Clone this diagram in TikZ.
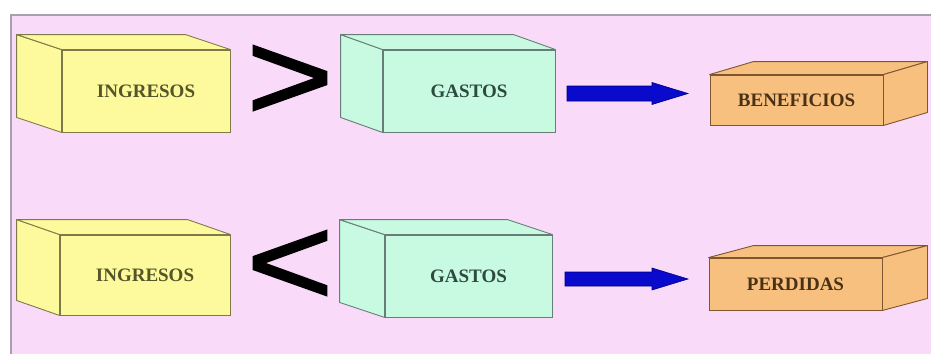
\documentclass[tikz,border=0pt]{standalone}
\usepackage{fontspec}
\usetikzlibrary{calc}
\setmainfont{Liberation Serif}
\newfontfamily\symfont[FakeBold=1.3]{Liberation Sans}
\definecolor{bgpink}{HTML}{F9DAF9}
\definecolor{framegray}{HTML}{A8A0B0}
\definecolor{boxyellow}{HTML}{FCFA9C}
\definecolor{edgeyellow}{HTML}{7E7A48}
\definecolor{boxgreen}{HTML}{C8FAE2}
\definecolor{edgegreen}{HTML}{667E76}
\definecolor{boxorange}{HTML}{F8C07E}
\definecolor{edgeorange}{HTML}{7E5630}
\definecolor{arrowblue}{HTML}{0A0ACC}
\definecolor{arrowedge}{HTML}{000080}
\definecolor{txtyellow}{HTML}{55552A}
\definecolor{txtgreen}{HTML}{2E4A40}
\definecolor{txtorange}{HTML}{4A3015}
\tikzset{
  front/.style={rectangle, inner sep=0pt, line width=0.9pt, font=\fontsize{19}{19}\selectfont\bfseries},
  yellowbox/.style={front, fill=boxyellow, draw=edgeyellow, text=txtyellow},
  greenbox/.style={front, fill=boxgreen, draw=edgegreen, text=txtgreen},
  orangebox/.style={front, fill=boxorange, draw=edgeorange, text=txtorange},
  relsym/.style={inner sep=0pt, anchor=base, font=\symfont\fontsize{150}{150}\selectfont},
  bigarrow/.style={fill=arrowblue, draw=arrowedge, line width=0.6pt, line join=miter}
}
\begin{document}
\begin{tikzpicture}[x=1pt,y=-1pt]
\useasboundingbox (0,0) rectangle (931,354);
\fill[white] (0,0) rectangle (931,354);
\fill[bgpink] (11,15) rectangle (931,354);
\draw[framegray, line width=1.2pt] (11,354) -- (11,15) -- (931,15);

% ---------- top row ----------
\node[yellowbox, minimum width=168pt, minimum height=82pt] (ing1) at (146,91) {INGRESOS};
\path[fill=boxyellow, draw=edgeyellow, line width=0.9pt, line join=round]
  (ing1.north west) -- ++(-45,-15) -- ($(ing1.south west)+(-45,-15)$) -- (ing1.south west) -- cycle;
\path[fill=boxyellow, draw=edgeyellow, line width=0.9pt, line join=round]
  (ing1.north west) -- ++(-45,-15) -- ($(ing1.north east)+(-45,-15)$) -- (ing1.north east) -- cycle;

\node[greenbox, minimum width=172pt, minimum height=82pt] (gas1) at (469,91) {GASTOS};
\path[fill=boxgreen, draw=edgegreen, line width=0.9pt, line join=round]
  (gas1.north west) -- ++(-42,-15) -- ($(gas1.south west)+(-42,-15)$) -- (gas1.south west) -- cycle;
\path[fill=boxgreen, draw=edgegreen, line width=0.9pt, line join=round]
  (gas1.north west) -- ++(-42,-15) -- ($(gas1.north east)+(-42,-15)$) -- (gas1.north east) -- cycle;

\node[orangebox, minimum width=173pt, minimum height=50pt] (ben) at (796.5,100) {BENEFICIOS};
\path[fill=boxorange, draw=edgeorange, line width=0.9pt, line join=round]
  (ben.north west) -- ++(44,-13) -- ($(ben.north east)+(44,-13)$) -- (ben.north east) -- cycle;
\path[fill=boxorange, draw=edgeorange, line width=0.9pt, line join=round]
  (ben.north east) -- ++(44,-13) -- ($(ben.south east)+(44,-13)$) -- (ben.south east) -- cycle;

\node[relsym] (gt) at (290,120) {\scalebox{1}[0.85]{>}};

\coordinate (a1s) at (567,93.5);
\coordinate (a1t) at (688,93.5);
\path[bigarrow] (a1s) ++(0,-7.5) -- ++(85,0) -- ++(0,-3.5) -- (a1t) -- ++(-36,11) -- ++(0,-3.5) -- ++(-85,0) -- cycle;

% ---------- bottom row ----------
\node[yellowbox, minimum width=170pt, minimum height=80pt] (ing2) at (145,275) {INGRESOS};
\path[fill=boxyellow, draw=edgeyellow, line width=0.9pt, line join=round]
  (ing2.north west) -- ++(-43,-15) -- ($(ing2.south west)+(-43,-15)$) -- (ing2.south west) -- cycle;
\path[fill=boxyellow, draw=edgeyellow, line width=0.9pt, line join=round]
  (ing2.north west) -- ++(-43,-15) -- ($(ing2.north east)+(-43,-15)$) -- (ing2.north east) -- cycle;

\node[greenbox, minimum width=167pt, minimum height=82pt] (gas2) at (468.5,276) {GASTOS};
\path[fill=boxgreen, draw=edgegreen, line width=0.9pt, line join=round]
  (gas2.north west) -- ++(-45,-15) -- ($(gas2.south west)+(-45,-15)$) -- (gas2.south west) -- cycle;
\path[fill=boxgreen, draw=edgegreen, line width=0.9pt, line join=round]
  (gas2.north west) -- ++(-45,-15) -- ($(gas2.north east)+(-45,-15)$) -- (gas2.north east) -- cycle;

\node[orangebox, minimum width=173pt, minimum height=52pt] (per) at (795.5,284) {PERDIDAS};
\path[fill=boxorange, draw=edgeorange, line width=0.9pt, line join=round]
  (per.north west) -- ++(45,-12) -- ($(per.north east)+(45,-12)$) -- (per.north east) -- cycle;
\path[fill=boxorange, draw=edgeorange, line width=0.9pt, line join=round]
  (per.north east) -- ++(45,-12) -- ($(per.south east)+(45,-12)$) -- (per.south east) -- cycle;

\node[relsym] (lt) at (290,305) {\scalebox{1}[0.85]{<}};

\coordinate (a2s) at (565,279);
\coordinate (a2t) at (688,279);
\path[bigarrow] (a2s) ++(0,-7) -- ++(87,0) -- ++(0,-4) -- (a2t) -- ++(-36,11) -- ++(0,-4) -- ++(-87,0) -- cycle;
\end{tikzpicture}
\end{document}
